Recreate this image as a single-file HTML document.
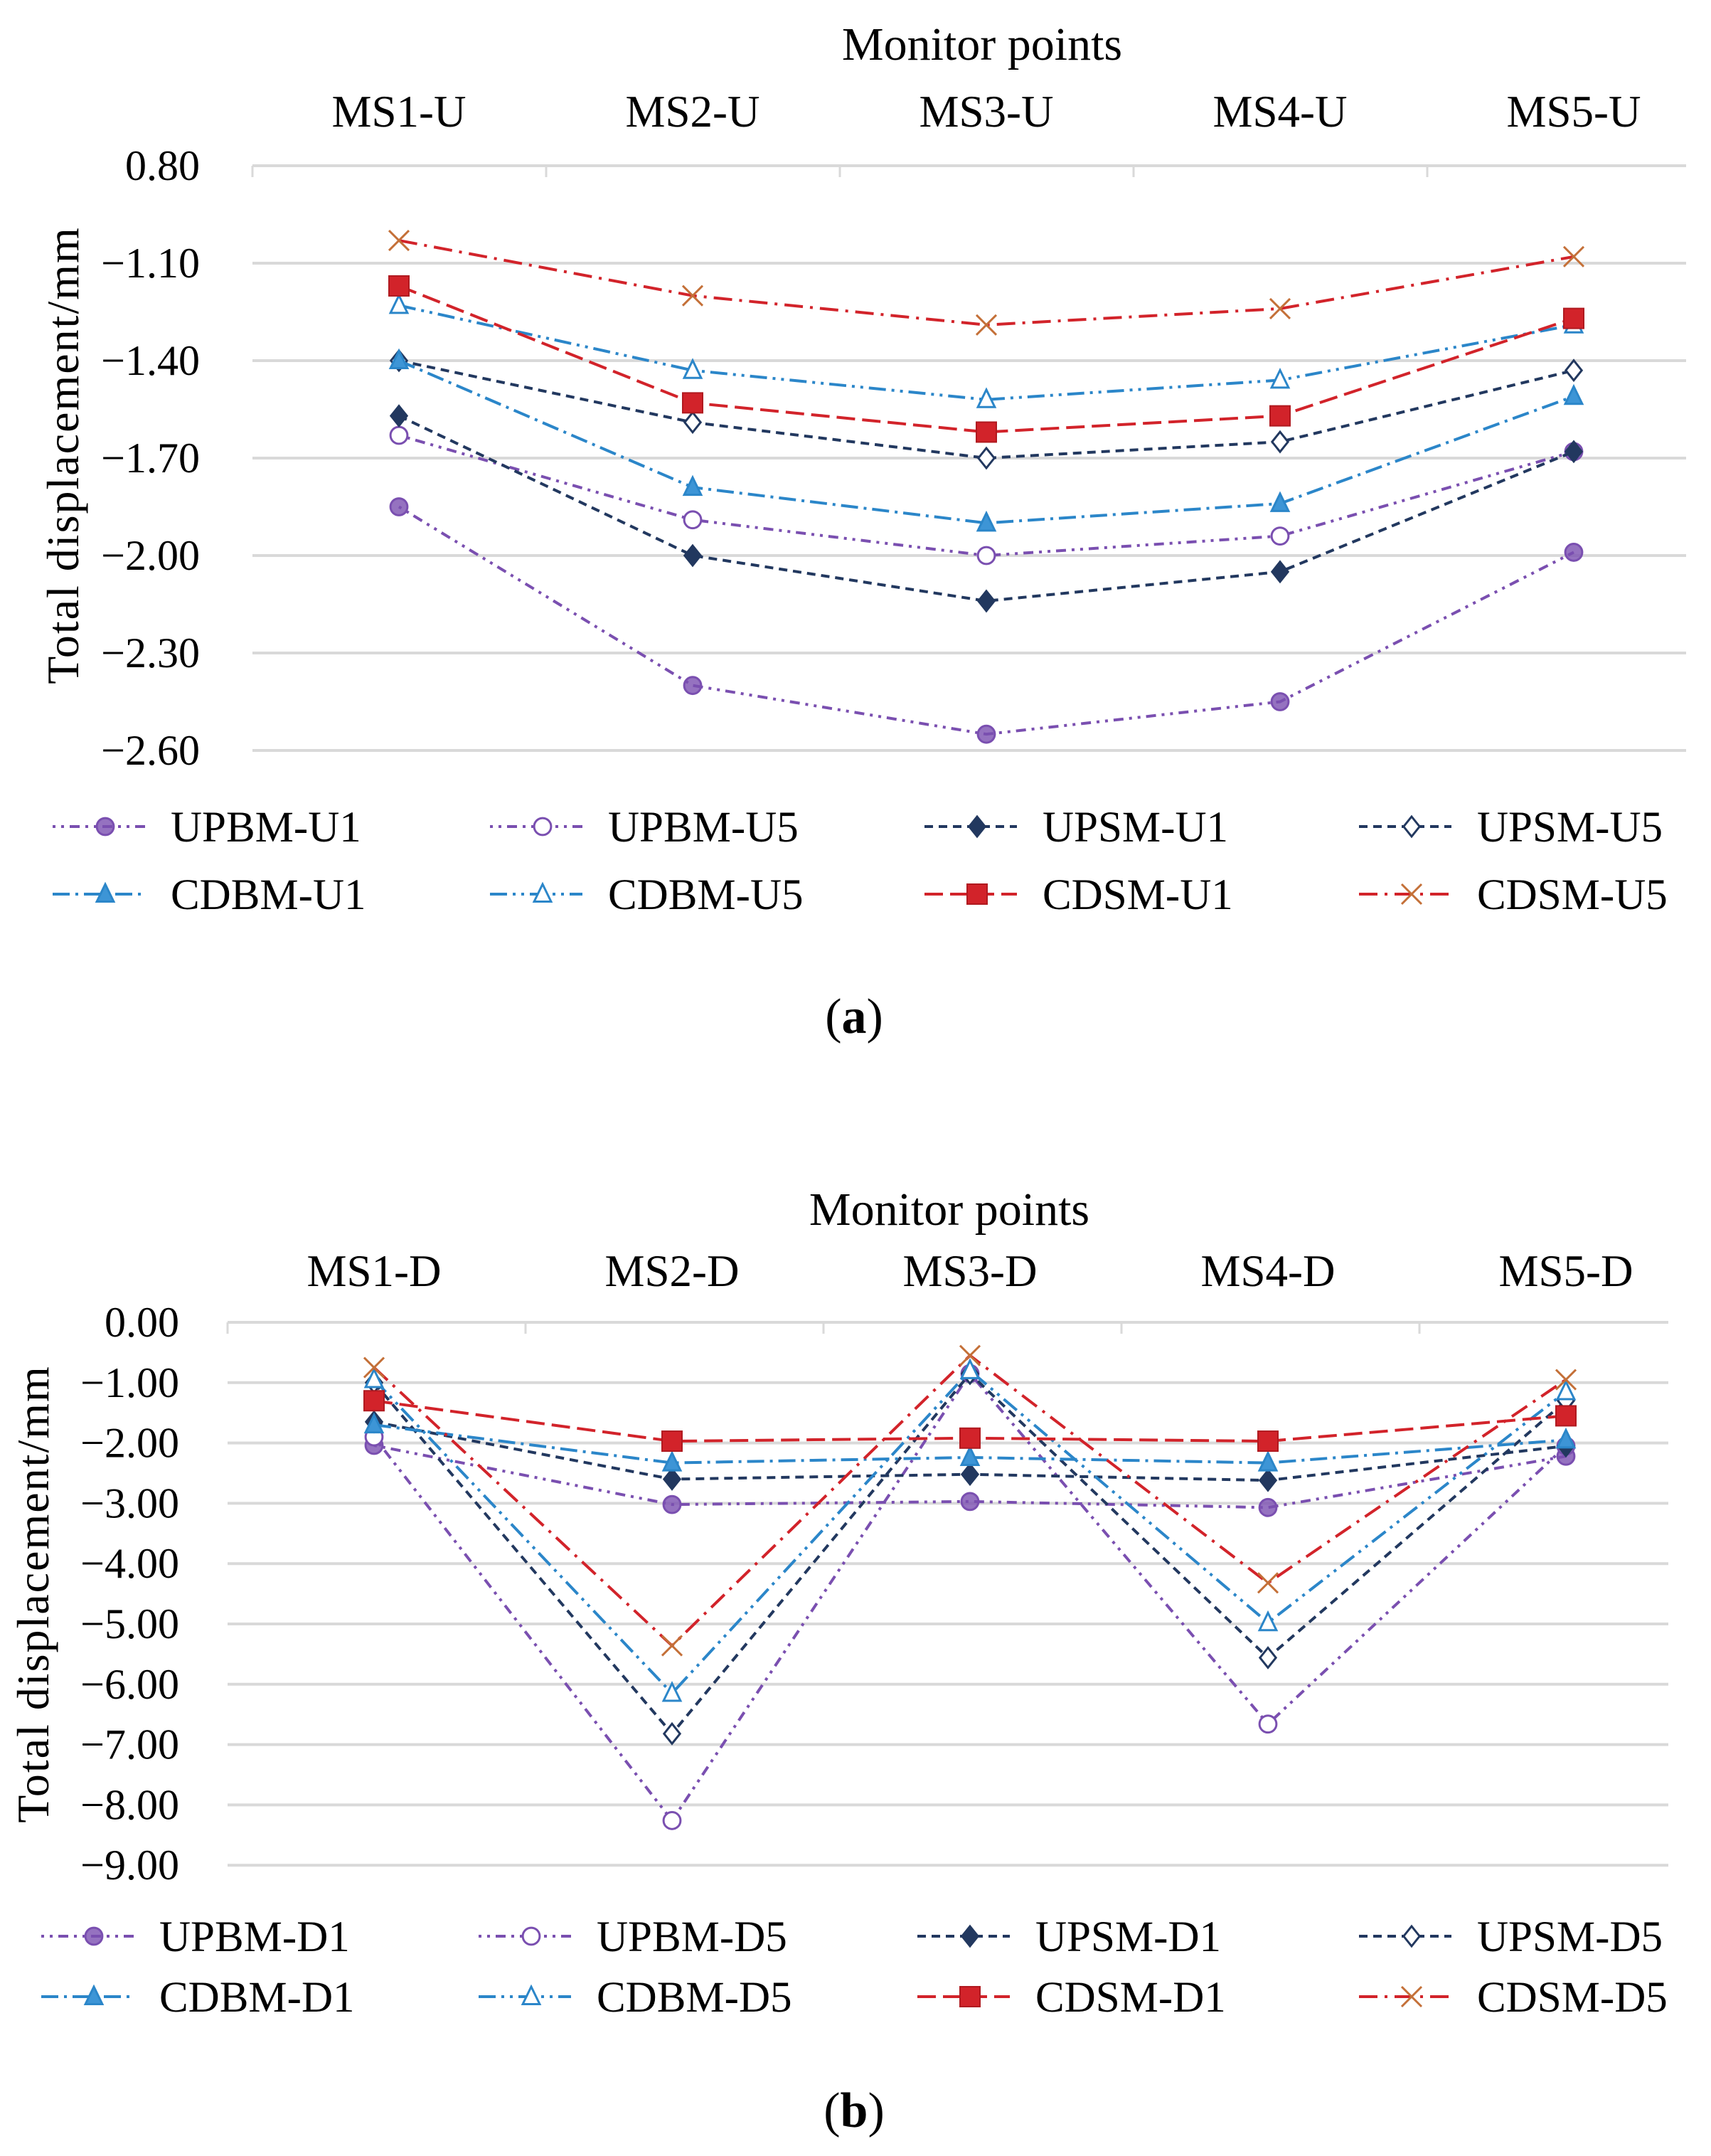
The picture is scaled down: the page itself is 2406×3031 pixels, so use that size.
<!DOCTYPE html>
<html><head><meta charset="utf-8">
<style>
html,body{margin:0;padding:0;background:#fff;}
svg{display:block;font-family:"Liberation Serif",serif;}
</style></head>
<body>
<svg id="root" width="2406" height="3031" viewBox="0 0 2406 3031" xmlns="http://www.w3.org/2000/svg">
<g id="chartA"></g>
<g id="chartB"></g>
<text x="1201" y="1452" font-size="70" text-anchor="middle">(<tspan font-weight="bold">a</tspan>)</text>
<text x="1201" y="2990" font-size="70" text-anchor="middle">(<tspan font-weight="bold">b</tspan>)</text>
</svg>
<script>
const catsA = ["MS1-U","MS2-U","MS3-U","MS4-U","MS5-U"];
const ticksA = ["0.80","\u22121.10","\u22121.40","\u22121.70","\u22122.00","\u22122.30","\u22122.60"];
const tickValsA = [-0.80,-1.10,-1.40,-1.70,-2.00,-2.30,-2.60];
const namesA = ["UPBM-U1","UPBM-U5","UPSM-U1","UPSM-U5","CDBM-U1","CDBM-U5","CDSM-U1","CDSM-U5"];
const upbmU1 = [-1.85,-2.40,-2.55,-2.45,-1.99];
const upbmU5 = [-1.63,-1.89,-2.00,-1.94,-1.68];
const upsmU1 = [-1.57,-2.00,-2.14,-2.05,-1.68];
const upsmU5 = [-1.40,-1.59,-1.70,-1.65,-1.43];
const cdbmU1 = [-1.40,-1.79,-1.90,-1.84,-1.51];
const cdbmU5 = [-1.23,-1.43,-1.52,-1.46,-1.29];
const cdsmU1 = [-1.17,-1.53,-1.62,-1.57,-1.27];
const cdsmU5 = [-1.03,-1.20,-1.29,-1.24,-1.08];

const catsB = ["MS1-D","MS2-D","MS3-D","MS4-D","MS5-D"];
const ticksB = ["0.00","\u22121.00","\u22122.00","\u22123.00","\u22124.00","\u22125.00","\u22126.00","\u22127.00","\u22128.00","\u22129.00"];
const tickValsB = [0,-1,-2,-3,-4,-5,-6,-7,-8,-9];
const namesB = ["UPBM-D1","UPBM-D5","UPSM-D1","UPSM-D5","CDBM-D1","CDBM-D5","CDSM-D1","CDSM-D5"];
const upbmD1 = [-2.04,-3.02,-2.97,-3.07,-2.22];
const upbmD5 = [-1.90,-8.26,-0.85,-6.66,-2.05];
const upsmD1 = [-1.65,-2.60,-2.52,-2.62,-2.05];
const upsmD5 = [-1.00,-6.82,-0.85,-5.56,-1.30];
const cdbmD1 = [-1.70,-2.33,-2.24,-2.33,-1.95];
const cdbmD5 = [-0.95,-6.15,-0.80,-4.98,-1.15];
const cdsmD1 = [-1.30,-1.97,-1.92,-1.97,-1.55];
const cdsmD5 = [-0.75,-5.36,-0.55,-4.32,-0.95];

const NS="http://www.w3.org/2000/svg";
const styles=[
 {c:"#7a4fb0",d:"4 8 4 8 14 8",m:"circle",f:true},
 {c:"#7a4fb0",d:"4 8 4 8 14 8",m:"circle",f:false},
 {c:"#22385f",d:"12 8",m:"diamond",f:true},
 {c:"#22385f",d:"12 8",m:"diamond",f:false},
 {c:"#2b86c9",d:"24 8 4 8",m:"tri",f:true},
 {c:"#2b86c9",d:"24 8 4 8 4 8",m:"tri",f:false},
 {c:"#d2232a",d:"26 10",m:"square",f:true},
 {c:"#d2232a",d:"26 10 4 10",m:"x",f:false}
];
function el(p,t,a){const e=document.createElementNS(NS,t);for(const k in a)e.setAttribute(k,a[k]);p.appendChild(e);return e;}
function marker(g,kind,cx,cy,st,r){
 let e;const fill=st.f?st.c:"#fff";
 if(kind==="circle") e=el(g,"circle",{cx:cx,cy:cy,r:r*0.85,fill:fill,stroke:st.c,"stroke-width":3,"fill-opacity":st.f?0.8:1});
 else if(kind==="diamond") e=el(g,"polygon",{points:`${cx},${cy-r} ${cx+r*0.8},${cy} ${cx},${cy+r} ${cx-r*0.8},${cy}`,fill:fill,stroke:st.c,"stroke-width":3});
 else if(kind==="tri") e=el(g,"polygon",{points:`${cx},${cy-r} ${cx+r*0.85},${cy+r*0.75} ${cx-r*0.85},${cy+r*0.75}`,fill:st.f?"#3d95d6":"#fff",stroke:st.c,"stroke-width":3});
 else if(kind==="square") e=el(g,"rect",{x:cx-r,y:cy-r,width:2*r,height:2*r,fill:fill,stroke:"#b01a20","stroke-width":2});
 else { e=el(g,"path",{d:`M${cx-r},${cy-r}L${cx+r},${cy+r}M${cx+r},${cy-r}L${cx-r},${cy+r}`,stroke:"#c47038","stroke-width":3,fill:"none"}); }
 return e;
}
function draw(gid,o){
 const g=document.getElementById(gid);
 const x=i=>o.c0+i*o.cs;
 const y=v=>o.yTop+(o.v0-v)/o.step*o.dy;
 o.tickVals.forEach((tv,i)=>{
  const gl=el(g,"line",{x1:o.x0,x2:o.x1,y1:y(tv),y2:y(tv),stroke:"#d9d9d9","stroke-width":4});
  
  
  const t=el(g,"text",{x:o.tx,y:y(tv)+20,"font-size":60,"text-anchor":"end"});t.textContent=o.ticks[i];
  
  
 });
 for(let i=0;i<5;i++){
  const bx=o.x0+i*o.cs;
  const tk=el(g,"line",{x1:bx,x2:bx,y1:y(o.tickVals[0]),y2:y(o.tickVals[0])+16,stroke:"#d9d9d9","stroke-width":3});
  
  
  const t=el(g,"text",{x:x(i),y:o.catY,"font-size":63,"text-anchor":"middle"});t.textContent=o.cats[i];
  
  
 }
 const tt=el(g,"text",{x:o.ttx,y:o.tty,"font-size":66,"text-anchor":"middle"});tt.textContent="Monitor  points";
 
 
 const yt=el(g,"text",{x:0,y:0,"font-size":64,"text-anchor":"middle","letter-spacing":2,transform:`translate(${o.ytx},${o.yty}) rotate(-90)`});yt.textContent="Total  displacement/mm";
 
 
 o.series.forEach((s,k)=>{
  const st=styles[k];
  const sg=el(g,"g",{});
  
  
  const pts=s.map((v,i)=>x(i)+","+y(v)).join(" ");
  el(sg,"polyline",{points:pts,fill:"none",stroke:st.c,"stroke-width":4,"stroke-dasharray":st.d});
  s.forEach((v,i)=>{const m=marker(sg,st.m,x(i),y(v),st,14);
   
   });
  const col=k%4,row=Math.floor(k/4);
  const lx=o.legX[col],ly=o.legY[row];
  const lg=el(g,"g",{});
  
  
  el(lg,"line",{x1:lx,x2:lx+130,y1:ly,y2:ly,stroke:st.c,"stroke-width":4,"stroke-dasharray":st.d});
  marker(lg,st.m,lx+74,ly,st,14);
  const lt=el(lg,"text",{x:lx+166,y:ly+21,"font-size":61});lt.textContent=o.names[k];
 });
}
draw("chartA",{x0:355,x1:2371,c0:561,cs:413,yTop:233,v0:-0.80,step:0.30,dy:137,tickVals:tickValsA,ticks:ticksA,cats:catsA,catY:178,tx:281,
 ttx:1381,tty:84,ytx:110,yty:640,names:namesA,series:[upbmU1,upbmU5,upsmU1,upsmU5,cdbmU1,cdbmU5,cdsmU1,cdsmU5],
 legX:[74,689,1300,1911],legY:[1162,1257]});
draw("chartB",{x0:320,x1:2346,c0:526,cs:419,yTop:1859,v0:0,step:1,dy:84.8,tickVals:tickValsB,ticks:ticksB,cats:catsB,catY:1808,tx:252,
 ttx:1335,tty:1722,ytx:68,yty:2241,names:namesB,series:[upbmD1,upbmD5,upsmD1,upsmD5,cdbmD1,cdbmD5,cdsmD1,cdsmD5],
 legX:[58,673,1290,1911],legY:[2722,2807]});
</script>
</body></html>
